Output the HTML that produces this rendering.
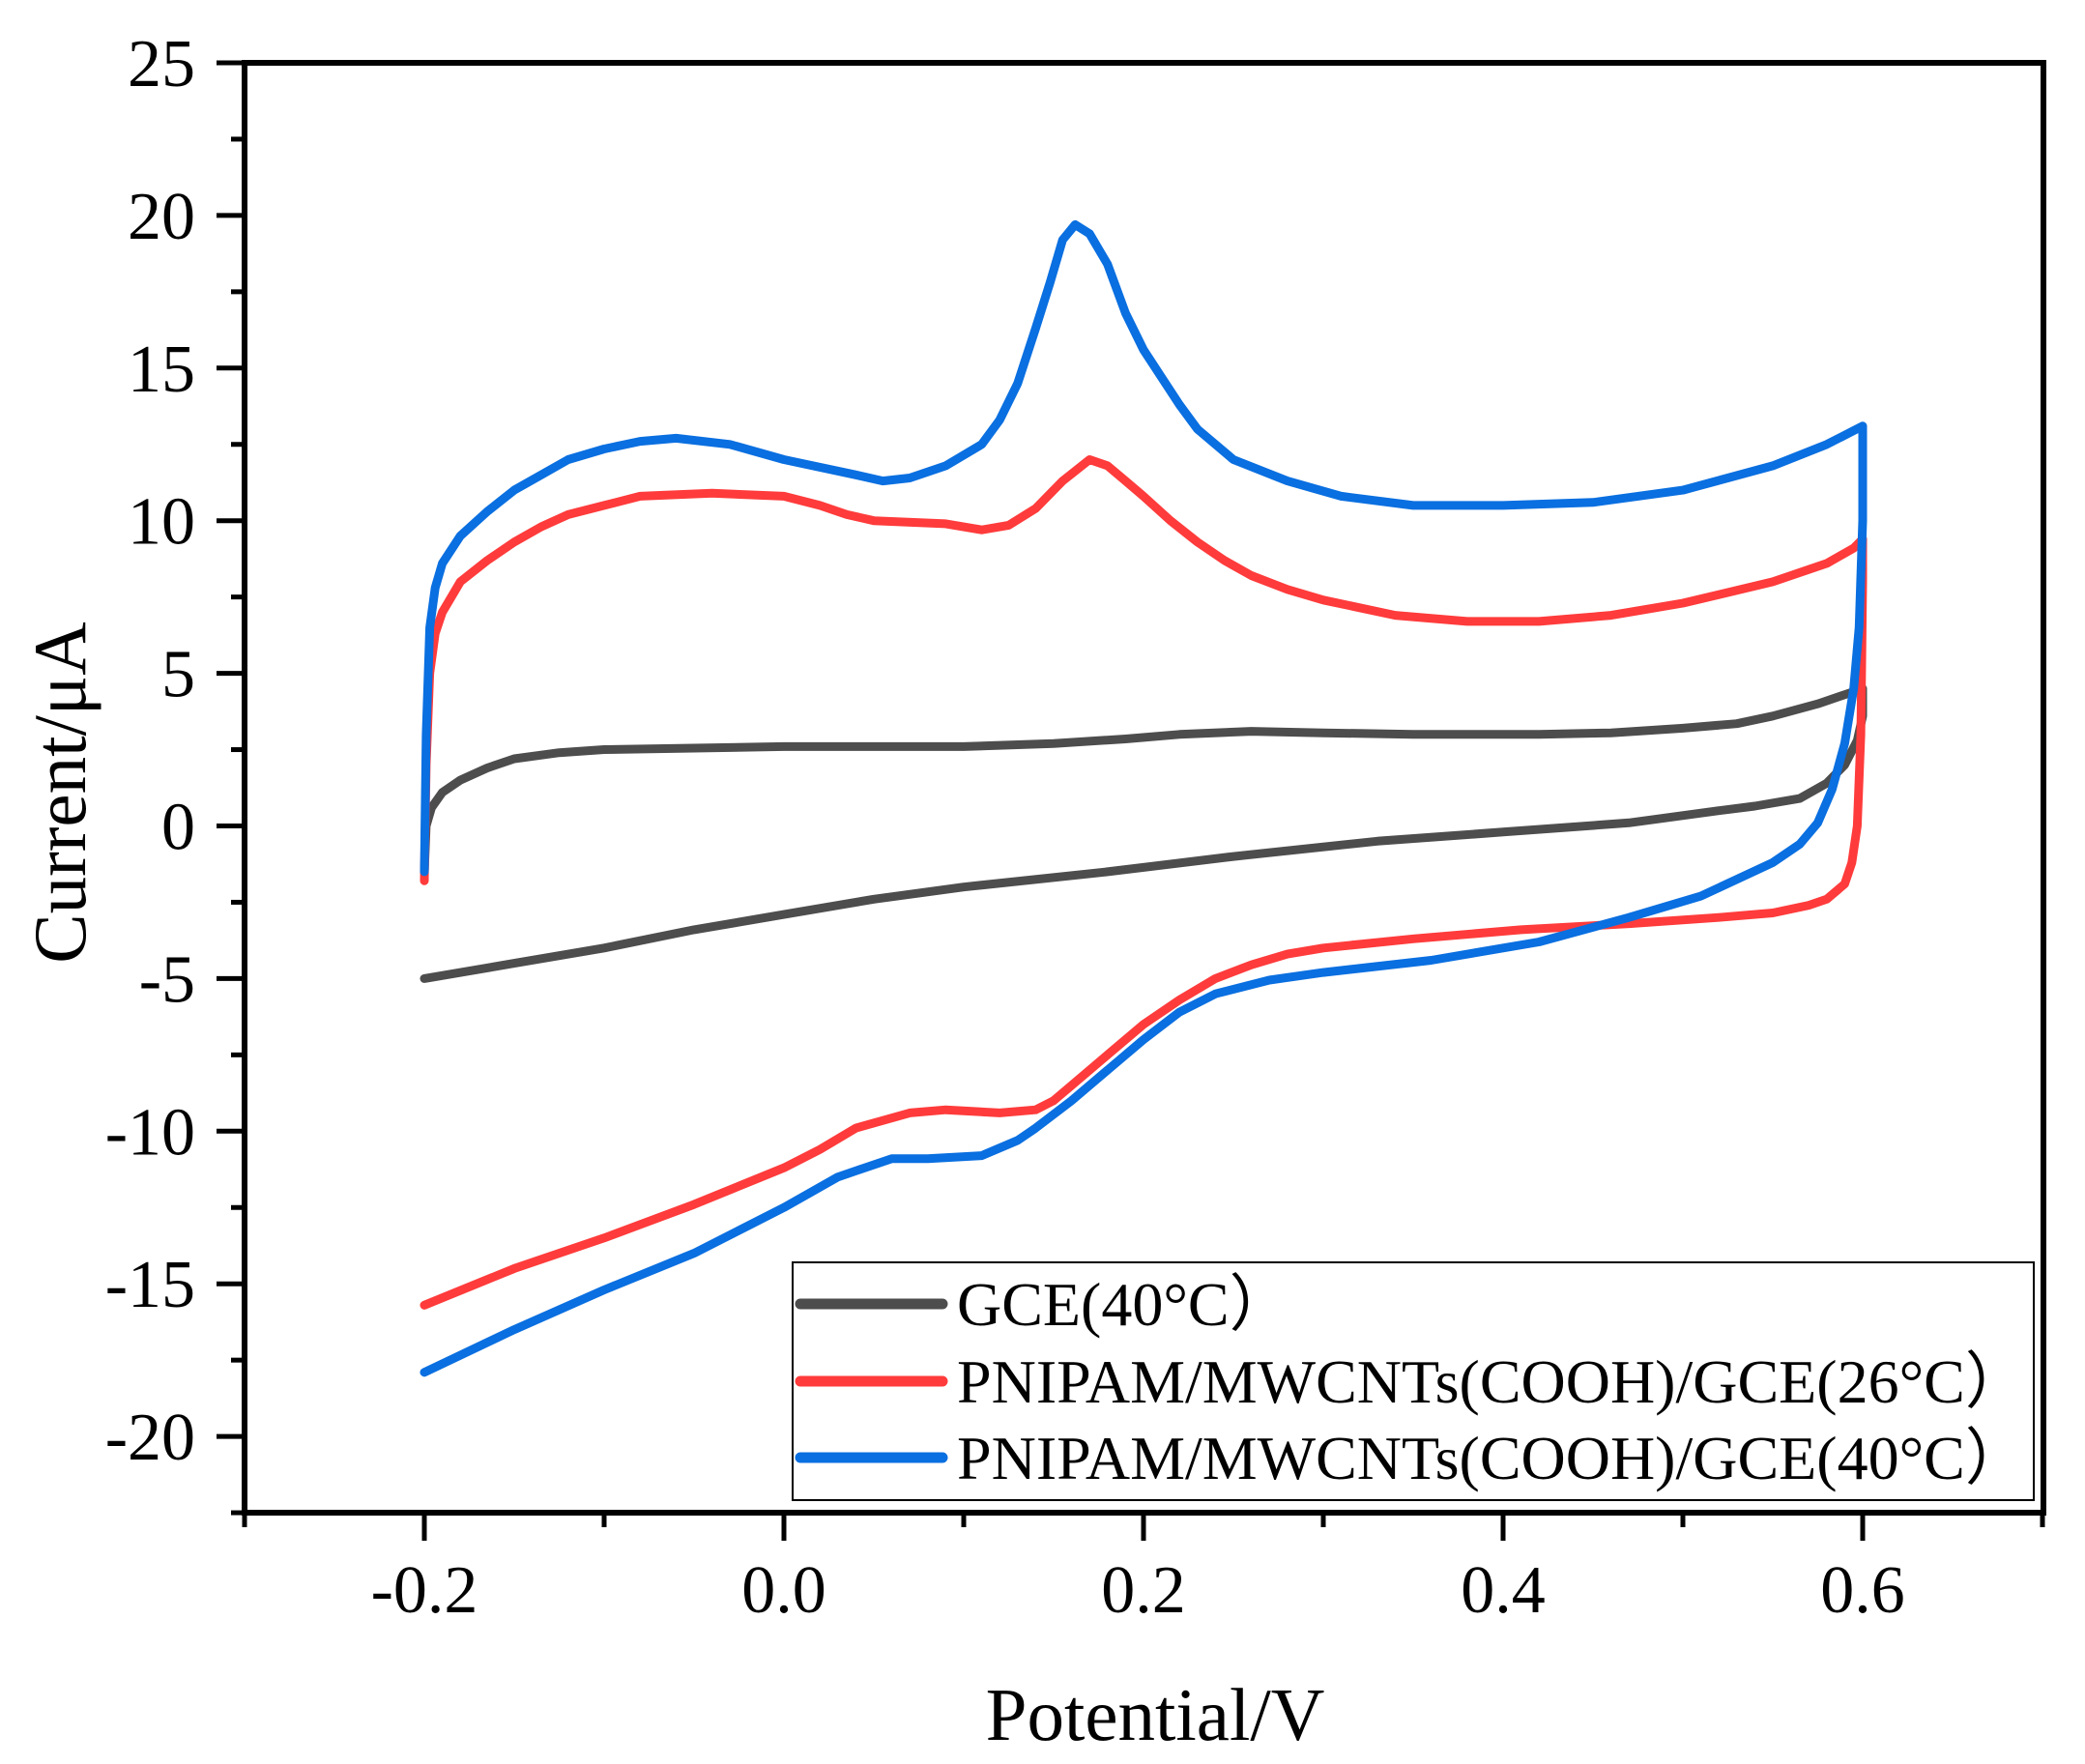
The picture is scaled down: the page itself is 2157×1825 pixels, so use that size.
<!DOCTYPE html>
<html><head><meta charset="utf-8"><style>
html,body{margin:0;padding:0;background:#fff;}
svg{display:block;font-family:"Liberation Serif",serif;}
</style></head><body>
<svg id="s" width="2157" height="1825" viewBox="0 0 2157 1825" xmlns="http://www.w3.org/2000/svg">
<rect width="2157" height="1825" fill="#fff"/>
<g id="ticks"></g>
<g id="curves" fill="none" stroke-width="9" stroke-linejoin="round" stroke-linecap="round"></g>
<rect x="253" y="65" width="1861" height="1500" fill="none" stroke="#000" stroke-width="6"/>
<rect x="820" y="1306" width="1284" height="246" fill="#fff" stroke="#000" stroke-width="2"/>
<line x1="828" y1="1349" x2="975" y2="1349" stroke="#4d4d4d" stroke-width="11" stroke-linecap="round"/>
<line x1="828" y1="1429" x2="975" y2="1429" stroke="#ff3b3b" stroke-width="11" stroke-linecap="round"/>
<line x1="828" y1="1508" x2="975" y2="1508" stroke="#0a6fe0" stroke-width="11" stroke-linecap="round"/>
<g font-size="64" fill="#000">
<text x="990" y="1371">GCE(40°C）</text>
<text x="990" y="1451">PNIPAM/MWCNTs(COOH)/GCE(26°C）</text>
<text x="990" y="1530">PNIPAM/MWCNTs(COOH)/GCE(40°C）</text>
</g>
<text x="1195" y="1800" font-size="77" text-anchor="middle">Potential/V</text>
<text transform="translate(88,820) rotate(-90)" font-size="77" text-anchor="middle">Current/μA</text>
</svg>
<script>
var X=function(v){return 811+1860*v;}, Y=function(c){return 65+(25-c)*31.58;};
var tg=document.getElementById('ticks'), s='';
for(var c=-22.5;c<=25.01;c+=2.5){var y=Y(c);var maj=Math.abs(c/5-Math.round(c/5))<1e-6;
 s+='<line x1="'+(maj?224:239)+'" y1="'+y+'" x2="253" y2="'+y+'" stroke="#000" stroke-width="5"/>';
 if(maj&&c>=-20) s+='<text x="202" y="'+(y+24)+'" font-size="70" text-anchor="end">'+Math.round(c)+'</text>';}
for(var i=0;i<=10;i++){var v=-0.3+i*0.1;var x=X(v);var maj=(i%2==1);
 s+='<line x1="'+x+'" y1="1565" x2="'+x+'" y2="'+(maj?1594:1580)+'" stroke="#000" stroke-width="5"/>';
 if(maj) s+='<text x="'+x+'" y="1668" font-size="70" text-anchor="middle">'+(v<0?'-':'')+Math.abs(v).toFixed(1)+'</text>';}
tg.innerHTML=s;
function path(pts){return 'M'+pts.map(function(a){return X(a[0]).toFixed(1)+','+Y(a[1]).toFixed(1);}).join(' L');}
var gray=[[-0.2,-1.5],[-0.199,0],[-0.196,0.6],[-0.19,1.1],[-0.18,1.5],[-0.165,1.9],[-0.15,2.2],[-0.125,2.4],[-0.1,2.5],[-0.05,2.55],[0,2.6],[0.1,2.6],[0.15,2.7],[0.19,2.85],[0.22,3.0],[0.26,3.1],[0.3,3.05],[0.35,3.0],[0.42,3.0],[0.46,3.05],[0.5,3.2],[0.53,3.35],[0.55,3.6],[0.575,4.0],[0.6,4.5],
[0.6,3.6],[0.597,2.8],[0.59,2.0],[0.58,1.4],[0.565,0.9],[0.54,0.65],[0.52,0.5],[0.47,0.1],[0.4,-0.2],[0.33,-0.5],[0.25,-1.0],[0.18,-1.5],[0.1,-2.0],[0.05,-2.4],[0,-2.9],[-0.05,-3.4],[-0.1,-4.0],[-0.15,-4.5],[-0.2,-5.0]];
var red=[[-0.2,-1.8],[-0.199,2],[-0.197,5.0],[-0.194,6.3],[-0.19,7.0],[-0.18,8.0],[-0.165,8.7],[-0.15,9.3],[-0.135,9.8],[-0.12,10.2],[-0.1,10.5],[-0.08,10.8],[-0.04,10.9],[0,10.8],[0.02,10.5],[0.035,10.2],[0.05,10.0],[0.09,9.9],[0.11,9.7],[0.125,9.85],[0.14,10.4],[0.155,11.3],[0.17,12.0],[0.18,11.8],[0.19,11.3],[0.2,10.8],[0.215,10.0],[0.23,9.3],[0.245,8.7],[0.26,8.2],[0.28,7.75],[0.3,7.4],[0.34,6.9],[0.38,6.7],[0.42,6.7],[0.46,6.9],[0.5,7.3],[0.55,8.0],[0.58,8.6],[0.595,9.1],[0.6,9.4],
[0.6,8],[0.599,3],[0.597,0],[0.594,-1.2],[0.59,-1.9],[0.58,-2.4],[0.57,-2.6],[0.55,-2.85],[0.52,-3.0],[0.47,-3.2],[0.41,-3.4],[0.35,-3.7],[0.3,-4.0],[0.28,-4.2],[0.26,-4.55],[0.24,-5.0],[0.22,-5.7],[0.2,-6.5],[0.18,-7.5],[0.16,-8.5],[0.15,-9.0],[0.14,-9.3],[0.12,-9.4],[0.09,-9.3],[0.07,-9.4],[0.04,-9.9],[0.02,-10.6],[0,-11.2],[-0.05,-12.4],[-0.1,-13.5],[-0.15,-14.5],[-0.2,-15.7]];
var blue=[[-0.2,-1.5],[-0.199,3],[-0.197,6.5],[-0.194,7.8],[-0.19,8.6],[-0.18,9.5],[-0.165,10.3],[-0.15,11.0],[-0.135,11.5],[-0.12,12.0],[-0.1,12.35],[-0.08,12.6],[-0.06,12.7],[-0.03,12.5],[0,12.0],[0.04,11.5],[0.055,11.3],[0.07,11.4],[0.09,11.8],[0.11,12.5],[0.12,13.3],[0.13,14.5],[0.14,16.3],[0.148,17.8],[0.155,19.2],[0.162,19.7],[0.17,19.4],[0.18,18.4],[0.19,16.8],[0.2,15.6],[0.21,14.7],[0.22,13.8],[0.23,13.0],[0.25,12.0],[0.28,11.3],[0.31,10.8],[0.35,10.5],[0.4,10.5],[0.45,10.6],[0.5,11.0],[0.55,11.8],[0.58,12.5],[0.595,12.95],[0.6,13.1],
[0.6,10],[0.598,6.5],[0.595,4.5],[0.59,2.7],[0.583,1.2],[0.575,0.1],[0.565,-0.6],[0.55,-1.2],[0.51,-2.3],[0.47,-3.0],[0.42,-3.8],[0.36,-4.4],[0.3,-4.8],[0.27,-5.05],[0.24,-5.5],[0.22,-6.1],[0.2,-7.0],[0.18,-8.0],[0.16,-9.0],[0.14,-9.9],[0.13,-10.3],[0.11,-10.8],[0.08,-10.9],[0.06,-10.9],[0.03,-11.5],[0,-12.5],[-0.05,-14.0],[-0.1,-15.2],[-0.15,-16.5],[-0.2,-17.9]];
document.getElementById('curves').innerHTML='<path d="'+path(gray)+'" stroke="#4d4d4d"/><path d="'+path(red)+'" stroke="#ff3b3b"/><path d="'+path(blue)+'" stroke="#0a6fe0"/>';
</script>
</body></html>
